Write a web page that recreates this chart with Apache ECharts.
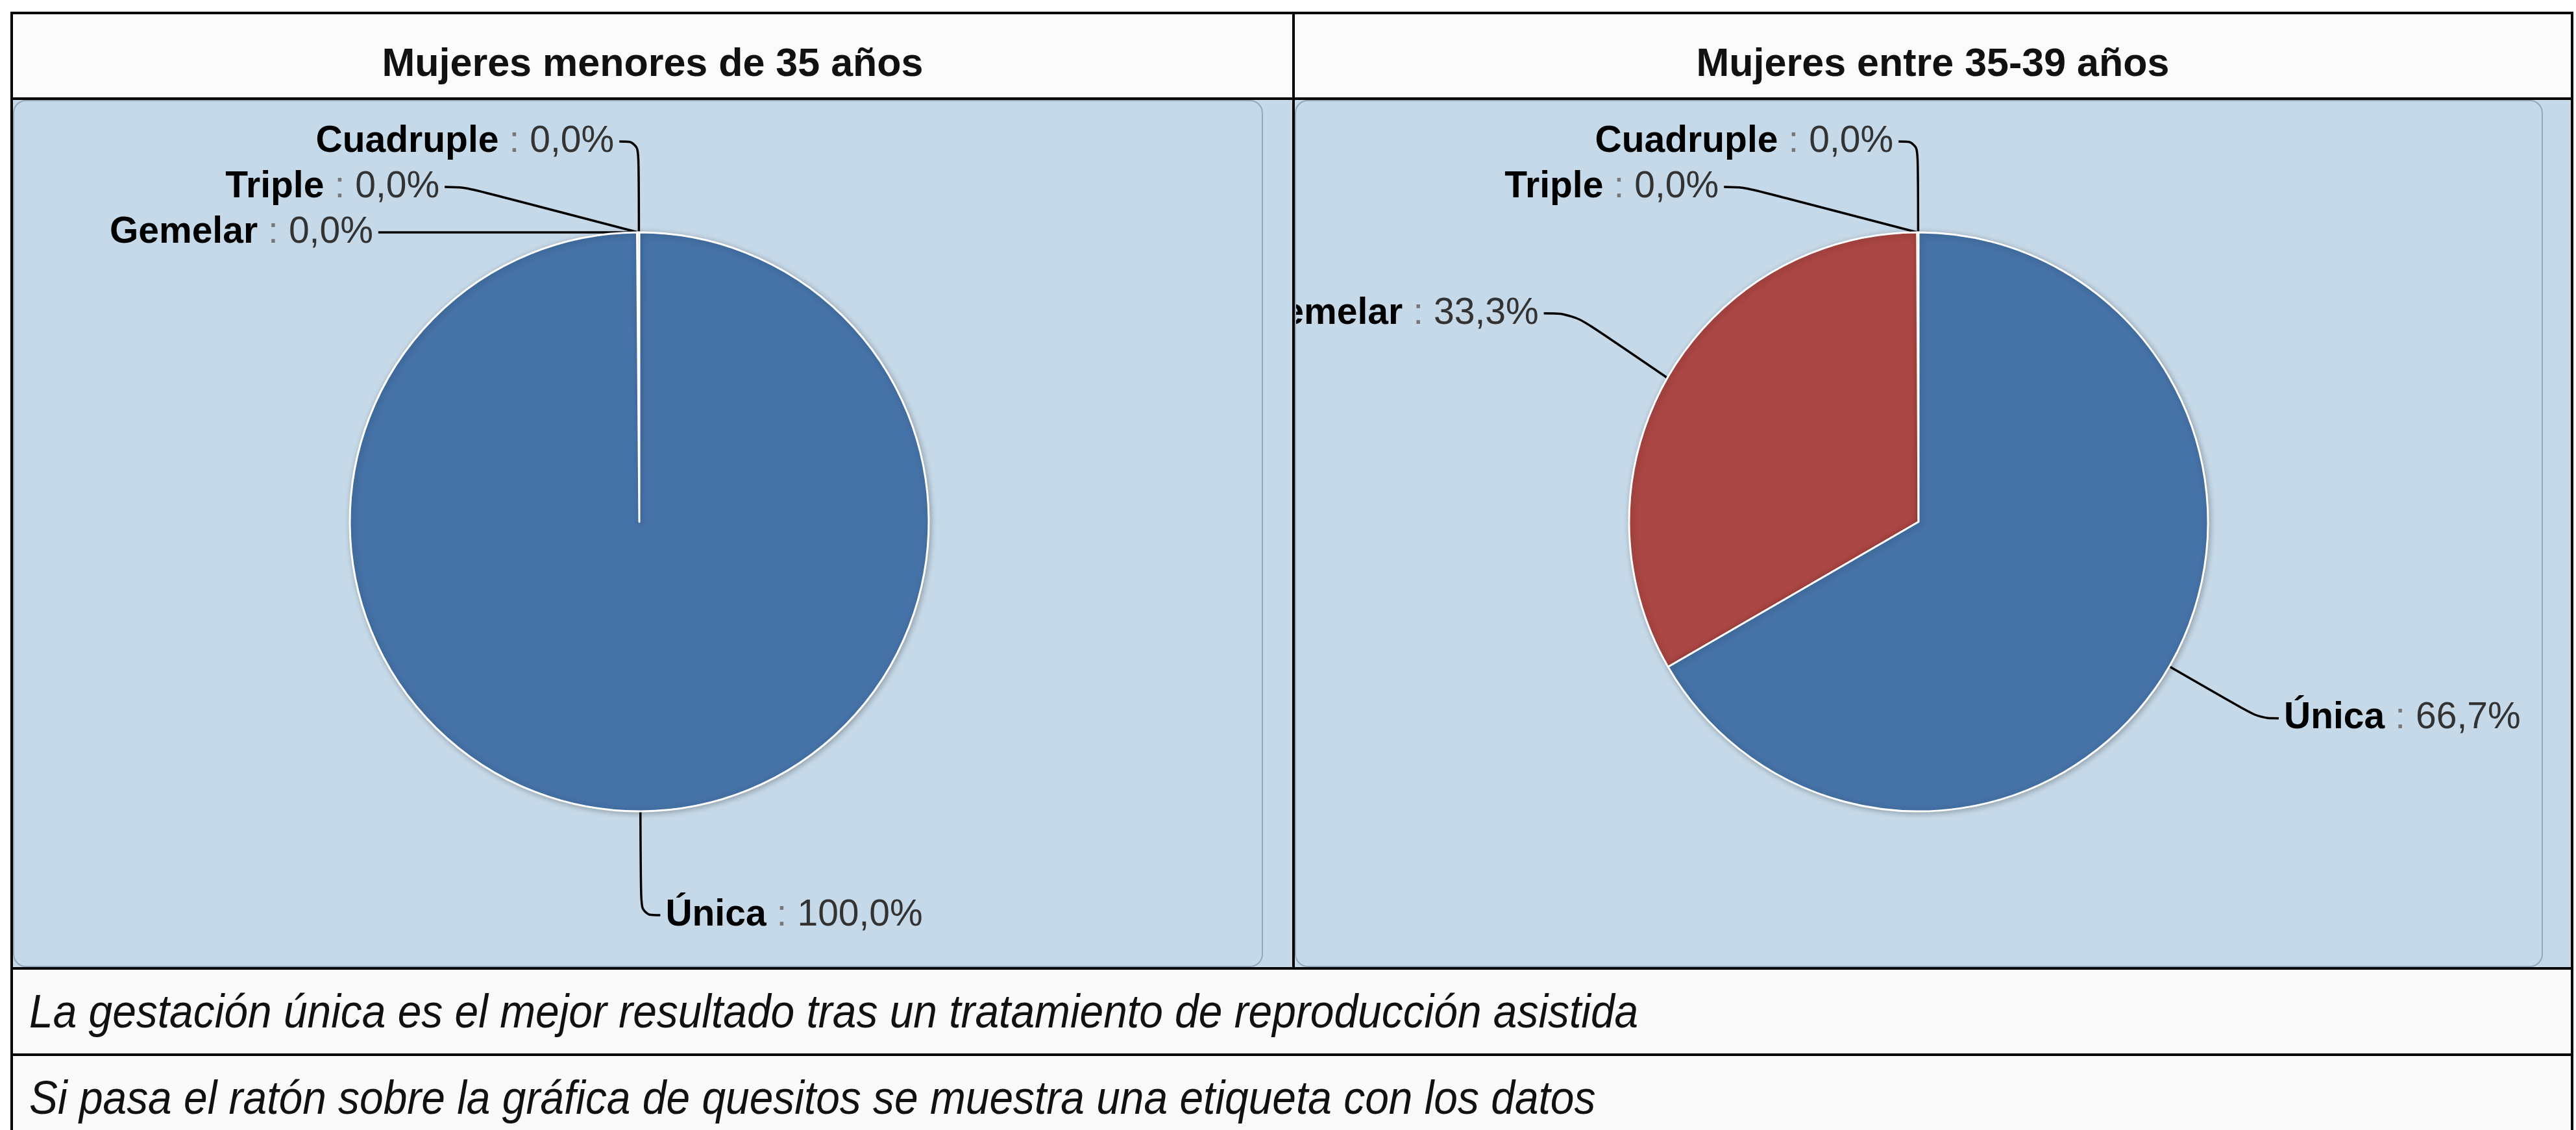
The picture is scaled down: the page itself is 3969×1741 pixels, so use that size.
<!DOCTYPE html>
<html>
<head>
<meta charset="utf-8">
<script src="https://cdn.jsdelivr.net/npm/echarts@6/dist/echarts.min.js"></script>
<style>
  body { margin: 0; width: 3969px; height: 1741px; background: #fff; position: relative; overflow: hidden;
         font-family: 'Liberation Sans', Arial, sans-serif; color: #111; }
  .ln { position: absolute; background: #000; }
  .cell { position: absolute; }
  .hdr { top: 22px; height: 128px; background: #fbfbfb; }
  .hdr .title { position: absolute; left: 0; right: 0; top: 10px; line-height: 128px; text-align: center;
                font-size: 61px; font-weight: bold; white-space: nowrap; }
  .body { top: 154px; height: 1336px; background: #c6d9e8; }
  .panel { position: absolute; top: 154px; height: 1336px; box-sizing: border-box;
           border: 2px solid #93a8bb; border-radius: 20px; overflow: hidden; }
  .cap { left: 20px; width: 3941px; height: 129px; background: #fafafa; }
  .cap span { position: absolute; left: 25px; top: 0; line-height: 129px; font-size: 72px; font-style: italic;
              white-space: nowrap; transform: scaleX(0.915); transform-origin: left center; }
</style>
</head>
<body>
  <div class="cell hdr" style="left:20px;width:1971px"><div class="title" id="t0"></div></div>
  <div class="cell hdr" style="left:1995px;width:1966px"><div class="title" id="t1"></div></div>
  <div class="cell body" style="left:20px;width:1971px"></div>
  <div class="cell body" style="left:1995px;width:1966px"></div>
  <div class="panel" id="pie0" style="left:20px;width:1926px"></div>
  <div class="panel" id="pie1" style="left:1995px;width:1923px"></div>
  <div class="cell cap" style="top:1494px"><span id="c0"></span></div>
  <div class="cell cap" style="top:1627px"><span id="c1"></span></div>

  <div class="ln" style="left:16px;top:18px;width:3949px;height:4px"></div>
  <div class="ln" style="left:16px;top:18px;width:4px;height:1723px"></div>
  <div class="ln" style="left:3961px;top:18px;width:4px;height:1723px"></div>
  <div class="ln" style="left:16px;top:150px;width:3949px;height:4px"></div>
  <div class="ln" style="left:1991px;top:18px;width:4px;height:1476px"></div>
  <div class="ln" style="left:16px;top:1490px;width:3949px;height:4px"></div>
  <div class="ln" style="left:16px;top:1623px;width:3949px;height:4px"></div>

<script>
// datos (porcentaje de gestaciones)
var categories = ['Única', 'Gemelar', 'Triple', 'Cuadruple'];
var menores35 = [100.0, 0.0, 0.0, 0.0];
var entre35y39 = [66.7, 33.3, 0.0, 0.0];
var colors = ['#4572A7', '#AA4643', '#89A54E', '#80699B'];
var titles = ['Mujeres menores de 35 años', 'Mujeres entre 35-39 años'];
var captions = [
    'La gestación única es el mejor resultado tras un tratamiento de reproducción asistida',
    'Si pasa el ratón sobre la gráfica de quesitos se muestra una etiqueta con los datos'
];

document.getElementById('t0').textContent = titles[0];
document.getElementById('t1').textContent = titles[1];
document.getElementById('c0').textContent = captions[0];
document.getElementById('c1').textContent = captions[1];

function fmt(v) {
    return v.toFixed(1).replace('.', ',') + '%';
}

// se recorre al revés y en sentido antihorario: así quedan igual que el original
function buildData(values, lines) {
    var out = [];
    for (var i = categories.length - 1; i >= 0; i--) {
        var item = { name: categories[i], value: values[i], itemStyle: { color: colors[i] } };
        if (lines[categories[i]]) item.labelLine = lines[categories[i]];
        out.push(item);
    }
    return out;
}

function createPie(elementId, values, center, lines) {
    var chartDom = document.getElementById(elementId);
    var myChart = echarts.init(chartDom);
    var option = {
        backgroundColor: 'transparent',
        animation: false,
        tooltip: {
            trigger: 'item',
            formatter: function (p) {
                return '<b>' + p.name + '</b>: ' + fmt(p.value);
            }
        },
        series: [
            {
                type: 'pie',
                center: center,
                radius: 446,
                startAngle: 90,
                clockwise: false,
                minAngle: 0.15,
                avoidLabelOverlap: true,
                itemStyle: {
                    borderColor: '#ffffff',
                    borderWidth: 3,
                    shadowBlur: 10,
                    shadowOffsetX: 2,
                    shadowOffsetY: 2,
                    shadowColor: 'rgba(0,0,0,0.25)'
                },
                label: {
                    overflow: 'none',
                    distanceToLabelLine: 8,
                    backgroundColor: 'rgba(0,0,0,0)',
                    padding: [3, 0, 3, 0],
                    formatter: function (p) {
                        return '{n|' + p.name + '}{s|:}{v|' + fmt(p.value) + '}';
                    },
                    rich: {
                        n: { fontFamily: 'Liberation Sans', fontWeight: 'bold', fontSize: 57, lineHeight: 62, color: '#000' },
                        s: { fontFamily: 'Liberation Sans', fontSize: 57, lineHeight: 62, color: '#777', padding: [0, 16, 0, 16] },
                        v: { fontFamily: 'Liberation Sans', fontSize: 57, lineHeight: 62, color: '#333' }
                    }
                },
                labelLine: {
                    length: 140,
                    length2: 30,
                    smooth: 0.4,
                    lineStyle: { color: '#000', width: 3.5 }
                },
                emphasis: { scale: false },
                data: buildData(values, lines)
            }
        ]
    };
    option && myChart.setOption(option);
}

createPie('pie0', menores35, [963, 648], {
    'Única': { length: 160 }
});
createPie('pie1', entre35y39, [959, 648], {
    'Única': { length: 160 },
    'Gemelar': { length: 200, length2: 45 }
});
</script>
</body>
</html>
